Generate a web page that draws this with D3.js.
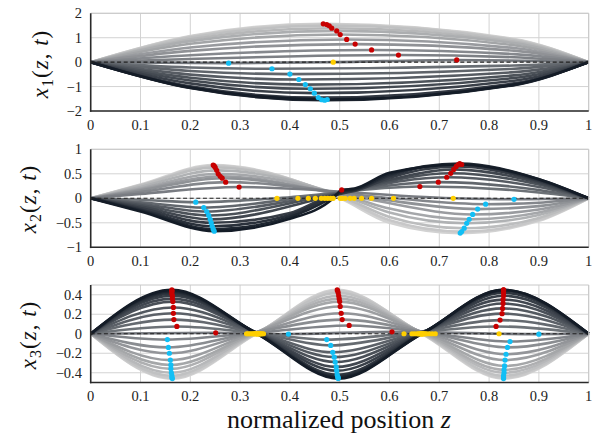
<!DOCTYPE html>
<html><head><meta charset="utf-8">
<script src="https://cdn.jsdelivr.net/npm/d3@7"></script>
<style>body{margin:0;background:#fff}svg{display:block}</style>
</head><body>
<svg id="chart" width="600" height="436" font-family="Liberation Serif, DejaVu Serif, serif"></svg>
<script>
// ---------- shared axis data ----------
const xTicks = [0,0.1,0.2,0.3,0.4,0.5,0.6,0.7,0.8,0.9,1];
const xTickLabels = ["0","0.1","0.2","0.3","0.4","0.5","0.6","0.7","0.8","0.9","1"];
const xTitle = "normalized position ";
const xTitleVar = "z";

// ---------- panel 1 : x1(z,t) ----------
const p1YTicks = [-2,-1,0,1,2];
const p1YTickLabels = ["\u22122","\u22121","0","1","2"];
// each curve: knots [z, value, marker]  (r = max, b = min, y = zero crossing, "" = shape point)
const p1Curves = [
  [[0.2,1.07,""],[0.467,1.57,"r"],[0.85,0.95,""]],
  [[0.2,1.05,""],[0.474,1.54,"r"],[0.85,0.93,""]],
  [[0.2,1.01,""],[0.479,1.49,"r"],[0.85,0.90,""]],
  [[0.2,0.94,""],[0.484,1.39,"r"],[0.85,0.84,""]],
  [[0.2,0.86,""],[0.494,1.28,"r"],[0.85,0.78,""]],
  [[0.2,0.75,""],[0.501,1.13,"r"],[0.85,0.69,""]],
  [[0.2,0.60,""],[0.514,0.93,"r"],[0.85,0.58,""]],
  [[0.2,0.46,""],[0.531,0.74,"r"],[0.85,0.47,""]],
  [[0.2,0.28,""],[0.564,0.50,"r"],[0.85,0.33,""]],
  [[0.2,0.13,""],[0.618,0.29,"r"],[0.85,0.20,""]],
  [[0.277,-0.04,"b"],[0.487,0,"y"],[0.735,0.09,"r"]],
  [[0.2,-0.22,""],[0.364,-0.27,"b"],[0.85,-0.14,""]],
  [[0.2,-0.36,""],[0.400,-0.49,"b"],[0.85,-0.27,""]],
  [[0.2,-0.51,""],[0.418,-0.71,"b"],[0.85,-0.41,""]],
  [[0.2,-0.64,""],[0.431,-0.92,"b"],[0.85,-0.54,""]],
  [[0.2,-0.75,""],[0.441,-1.09,"b"],[0.85,-0.65,""]],
  [[0.2,-0.87,""],[0.449,-1.27,"b"],[0.85,-0.76,""]],
  [[0.2,-0.99,""],[0.457,-1.45,"b"],[0.85,-0.87,""]],
  [[0.2,-1.05,""],[0.464,-1.54,"b"],[0.85,-0.93,""]],
  [[0.2,-1.06,""],[0.470,-1.56,"b"],[0.85,-0.94,""]],
  [[0.2,-1.04,""],[0.475,-1.53,"b"],[0.85,-0.92,""]]
];

// ---------- panel 2 : x2(z,t) ----------
const p2YTicks = [-1,-0.5,0,0.5,1];
const p2YTickLabels = ["\u22121","\u22120.5","0","0.5","1"];
const p2Curves = [
  [[0.1,0.28,""],[0.246,0.68,"r"],[0.501,0,"y"],[0.6,-0.50,""],[0.742,-0.71,"b"],[0.9,-0.46,""]],
  [[0.1,0.27,""],[0.248,0.66,"r"],[0.505,0,"y"],[0.6,-0.45,""],[0.745,-0.68,"b"],[0.9,-0.44,""]],
  [[0.1,0.26,""],[0.250,0.63,"r"],[0.511,0,"y"],[0.6,-0.38,""],[0.750,-0.61,"b"],[0.9,-0.40,""]],
  [[0.1,0.23,""],[0.253,0.57,"r"],[0.521,0,"y"],[0.6,-0.29,""],[0.755,-0.51,"b"],[0.9,-0.34,""]],
  [[0.1,0.20,""],[0.256,0.50,"r"],[0.529,0,"y"],[0.6,-0.21,""],[0.760,-0.43,"b"],[0.9,-0.29,""]],
  [[0.1,0.18,""],[0.260,0.45,"r"],[0.544,0,"y"],[0.767,-0.33,"b"],[0.9,-0.23,""]],
  [[0.1,0.16,""],[0.264,0.41,"r"],[0.564,0,"y"],[0.777,-0.22,"b"],[0.9,-0.16,""]],
  [[0.1,0.13,""],[0.271,0.33,"r"],[0.608,0,"y"],[0.793,-0.12,"b"],[0.9,-0.09,""]],
  [[0.1,0.09,""],[0.298,0.23,"r"],[0.728,0,"y"],[0.850,-0.02,"b"]],
  [[0.1,-0.03,""],[0.211,-0.08,"b"],[0.374,0,"y"],[0.661,0.24,"r"],[0.9,0.12,""]],
  [[0.1,-0.08,""],[0.227,-0.19,"b"],[0.416,0,"y"],[0.698,0.33,"r"],[0.9,0.17,""]],
  [[0.1,-0.11,""],[0.233,-0.27,"b"],[0.437,0,"y"],[0.715,0.43,"r"],[0.9,0.23,""]],
  [[0.1,-0.14,""],[0.237,-0.35,"b"],[0.451,0,"y"],[0.723,0.51,"r"],[0.9,0.28,""]],
  [[0.1,-0.17,""],[0.240,-0.43,"b"],[0.463,0,"y"],[0.6,0.38,""],[0.729,0.59,"r"],[0.9,0.32,""]],
  [[0.1,-0.20,""],[0.242,-0.50,"b"],[0.4,-0.30,""],[0.470,0,"y"],[0.505,0.10,""],[0.53,0.15,""],[0.6,0.42,""],[0.734,0.65,"r"],[0.9,0.35,""]],
  [[0.1,-0.23,""],[0.244,-0.57,"b"],[0.4,-0.34,""],[0.476,0,"y"],[0.505,0.12,""],[0.53,0.17,""],[0.6,0.46,""],[0.738,0.69,"r"],[0.9,0.37,""]],
  [[0.1,-0.25,""],[0.246,-0.63,"b"],[0.4,-0.38,""],[0.482,0,"y"],[0.505,0.14,""],[0.53,0.18,""],[0.6,0.49,""],[0.741,0.71,"r"],[0.9,0.39,""]],
  [[0.1,-0.27,""],[0.248,-0.67,"b"],[0.4,-0.42,""],[0.487,0,"y"],[0.504,0.17,"r"],[0.53,0.20,""],[0.6,0.52,""],[0.745,0.69,"r"],[0.9,0.39,""]]
];

// ---------- panel 3 : x3(z,t) ----------
const p3YTicks = [-0.4,-0.2,0,0.2,0.4];
const p3YTickLabels = ["\u22120.4","\u22120.2","0","0.2","0.4"];
const p3Curves = [
  [[0.164,-0.46,"b"],[0.333,0,"y"],[0.495,0.45,"r"],[0.665,0,"y"],[0.829,-0.46,"b"]],
  [[0.163,-0.45,"b"],[0.332,0,"y"],[0.496,0.44,"r"],[0.666,0,"y"],[0.829,-0.45,"b"]],
  [[0.163,-0.43,"b"],[0.331,0,"y"],[0.497,0.42,"r"],[0.667,0,"y"],[0.829,-0.43,"b"]],
  [[0.162,-0.40,"b"],[0.330,0,"y"],[0.498,0.39,"r"],[0.668,0,"y"],[0.830,-0.40,"b"]],
  [[0.161,-0.36,"b"],[0.328,0,"y"],[0.499,0.36,"r"],[0.670,0,"y"],[0.830,-0.37,"b"]],
  [[0.161,-0.32,"b"],[0.326,0,"y"],[0.500,0.33,"r"],[0.672,0,"y"],[0.831,-0.33,"b"]],
  [[0.160,-0.27,"b"],[0.323,0,"y"],[0.501,0.28,"r"],[0.675,0,"y"],[0.832,-0.27,"b"]],
  [[0.158,-0.20,"b"],[0.320,0,"y"],[0.503,0.21,"r"],[0.680,0,"y"],[0.834,-0.21,"b"]],
  [[0.156,-0.14,"b"],[0.316,0,"y"],[0.505,0.145,"r"],[0.686,0,"y"],[0.837,-0.14,"b"]],
  [[0.154,-0.06,"b"],[0.313,0,"y"],[0.519,0.085,"r"],[0.692,0,"y"],[0.842,-0.08,"b"]],
  [[0.251,0.01,"r"],[0.397,-0.003,"b"],[0.605,0.02,"r"],[0.820,0,"y"],[0.900,-0.004,"b"]],
  [[0.173,0.075,"r"],[0.347,0,"y"],[0.474,-0.06,"b"],[0.629,0,"y"],[0.814,0.075,"r"]],
  [[0.167,0.145,"r"],[0.344,0,"y"],[0.482,-0.12,"b"],[0.645,0,"y"],[0.822,0.14,"r"]],
  [[0.166,0.21,"r"],[0.342,0,"y"],[0.486,-0.19,"b"],[0.650,0,"y"],[0.826,0.206,"r"]],
  [[0.166,0.27,"r"],[0.340,0,"y"],[0.489,-0.24,"b"],[0.655,0,"y"],[0.827,0.26,"r"]],
  [[0.165,0.33,"r"],[0.339,0,"y"],[0.491,-0.29,"b"],[0.658,0,"y"],[0.828,0.31,"r"]],
  [[0.164,0.36,"r"],[0.338,0,"y"],[0.493,-0.34,"b"],[0.660,0,"y"],[0.828,0.35,"r"]],
  [[0.164,0.39,"r"],[0.337,0,"y"],[0.494,-0.38,"b"],[0.662,0,"y"],[0.829,0.39,"r"]],
  [[0.163,0.41,"r"],[0.336,0,"y"],[0.495,-0.42,"b"],[0.663,0,"y"],[0.829,0.42,"r"]],
  [[0.163,0.43,"r"],[0.335,0,"y"],[0.496,-0.44,"b"],[0.664,0,"y"],[0.829,0.44,"r"]],
  [[0.163,0.44,"r"],[0.334,0,"y"],[0.497,-0.45,"b"],[0.665,0,"y"],[0.829,0.45,"r"]],
  [[0.163,0.45,"r"],[0.334,0,"y"],[0.497,-0.46,"b"],[0.665,0,"y"],[0.829,0.45,"r"]]
];

// ---------- drawing ----------
const svg = d3.select("#chart");
const x = d3.scaleLinear().domain([0,1]).range([90.7,588.7]);
const panels = [
  {curves:p1Curves, yTicks:p1YTicks, yLabels:p1YTickLabels, dom:[-2,2], top:13.3, bottom:111, sub:"1", labX:47.5, labY:64},
  {curves:p2Curves, yTicks:p2YTicks, yLabels:p2YTickLabels, dom:[-1,1], top:149.3, bottom:247.3, sub:"2", labX:35.5, labY:199},
  {curves:p3Curves, yTicks:p3YTicks, yLabels:p3YTickLabels, dom:[-0.5,0.5], top:285, bottom:382.5, sub:"3", labX:35.5, labY:335}
];
const markColor = {r:"#c80000", b:"#12bff5", y:"#ffcf00"};

panels.forEach(p => {
  const y = d3.scaleLinear().domain(p.dom).range([p.bottom, p.top]);
  const g = svg.append("g");
  g.selectAll(".vg").data(xTicks).join("line")
    .attr("x1", d=>x(d)).attr("x2", d=>x(d)).attr("y1", p.top).attr("y2", p.bottom)
    .attr("stroke", "#d3d3d3").attr("stroke-width", 1);
  g.selectAll(".hg").data(p.yTicks).join("line")
    .attr("x1", x(0)).attr("x2", x(1)).attr("y1", d=>y(d)).attr("y2", d=>y(d))
    .attr("stroke", "#d3d3d3").attr("stroke-width", 1);
  const n = p.curves.length;
  const col = d3.interpolateRgb("#d2d2d2", "#141c27");
  const line = d3.line().x(d=>x(d[0])).y(d=>y(d[1])).curve(d3.curveMonotoneX);
  p.curves.forEach((c,i) => {
    const pts = [[0,0]].concat(c.map(k=>[k[0],k[1]])).concat([[1,0]]);
    g.append("path").attr("d", line(pts)).attr("fill","none")
      .attr("stroke", col(i/(n-1))).attr("stroke-width", 2.6)
      .attr("stroke-linejoin","round");
  });
  g.append("line").attr("x1", x(0)).attr("x2", x(1)).attr("y1", y(0)).attr("y2", y(0))
    .attr("stroke", "#222").attr("stroke-width", 1.1).attr("stroke-dasharray", "4,2.6");
  const marks = [];
  p.curves.forEach(c => c.forEach(k => { if (k[2]) marks.push(k); }));
  ["y","b","r"].forEach(t => {
    g.selectAll(".m"+t).data(marks.filter(k=>k[2]===t)).join("circle")
      .attr("cx", d=>x(d[0])).attr("cy", d=>y(d[1])).attr("r", 2.6)
      .attr("fill", markColor[t]);
  });
  g.append("line").attr("x1", x(0)).attr("x2", x(1)).attr("y1", p.top).attr("y2", p.top)
    .attr("stroke", "#c8c8c8").attr("stroke-width", 1);
  g.append("line").attr("x1", x(1)).attr("x2", x(1)).attr("y1", p.top).attr("y2", p.bottom)
    .attr("stroke", "#c8c8c8").attr("stroke-width", 1);
  g.append("line").attr("x1", x(0)).attr("x2", x(0)).attr("y1", p.top).attr("y2", p.bottom+0.8)
    .attr("stroke", "#2a2a2a").attr("stroke-width", 1.6);
  g.append("line").attr("x1", x(0)-0.8).attr("x2", x(1)).attr("y1", p.bottom).attr("y2", p.bottom)
    .attr("stroke", "#2a2a2a").attr("stroke-width", 1.6);
  g.selectAll(".xl").data(xTicks).join("text")
    .attr("x", d=>x(d)).attr("y", p.bottom+18.5).attr("text-anchor","middle")
    .attr("font-size", 14.5).attr("fill","#222")
    .text((d,i)=>xTickLabels[i]);
  g.selectAll(".yl").data(p.yTicks).join("text")
    .attr("x", 82).attr("y", d=>y(d)).attr("dy","0.35em").attr("text-anchor","end")
    .attr("font-size", 14.5).attr("fill","#222")
    .text((d,i)=>p.yLabels[i]);
  const t = g.append("text").attr("transform", `translate(${p.labX},${p.labY}) rotate(-90)`)
    .attr("text-anchor","middle").attr("font-size", 23)
    .attr("letter-spacing", 1).attr("fill","#111");
  t.append("tspan").attr("font-style","italic").text("x");
  t.append("tspan").attr("font-size", 16).attr("dy", 5).text(p.sub);
  t.append("tspan").attr("dy", -5).text("(");
  t.append("tspan").attr("font-style","italic").text("z");
  t.append("tspan").text(", ");
  t.append("tspan").attr("font-style","italic").text("t");
  t.append("tspan").text(")");
});
const xt = svg.append("text").attr("x", 339).attr("y", 428).attr("text-anchor","middle")
  .attr("font-size", 26).attr("fill","#111");
xt.append("tspan").text(xTitle);
xt.append("tspan").attr("font-style","italic").text(xTitleVar);
</script>
</body></html>
